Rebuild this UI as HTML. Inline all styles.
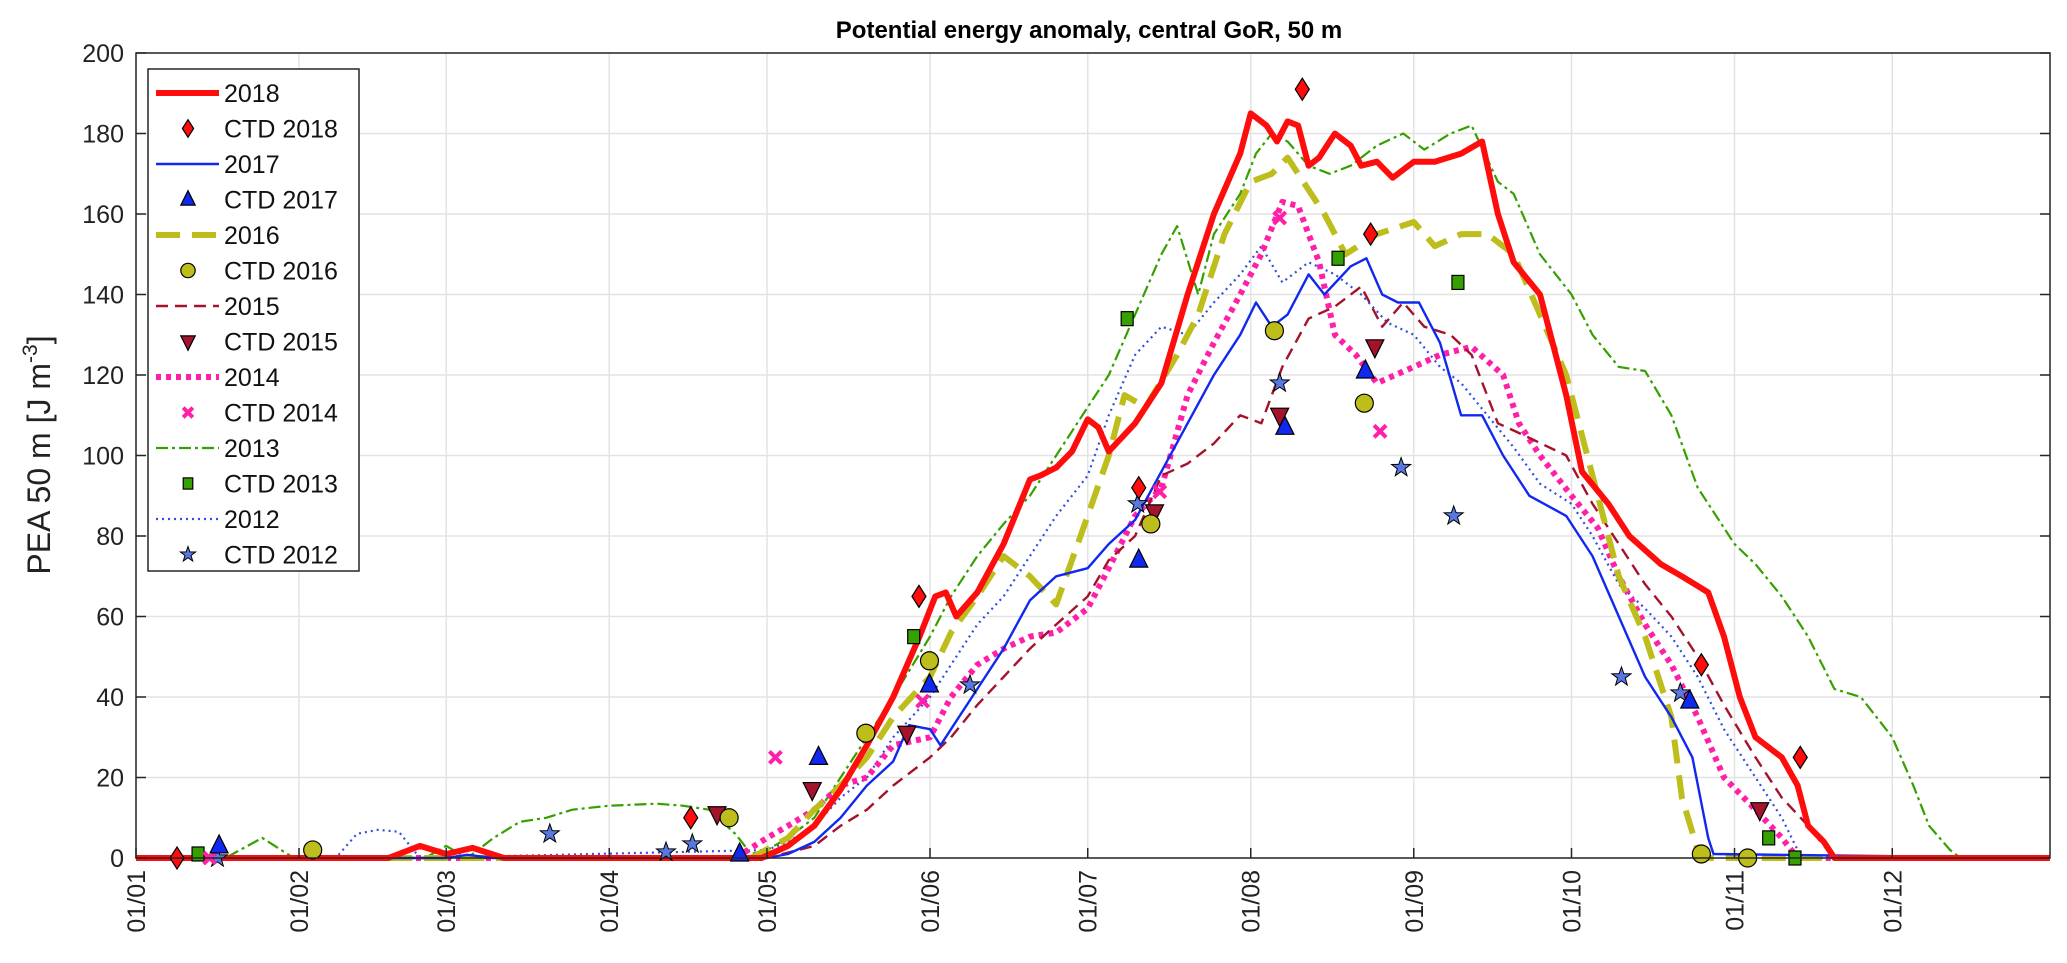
<!DOCTYPE html>
<html><head><meta charset="utf-8"><style>
html,body{margin:0;padding:0;background:#fff}
svg{display:block;font-family:"Liberation Sans",Arial,sans-serif}
</style></head><body>
<svg id="chart" width="2067" height="963" viewBox="0 0 2067 963" xmlns="http://www.w3.org/2000/svg">
<rect width="2067" height="963" fill="#fff"/>
<text x="1089" y="38" text-anchor="middle" font-size="24" font-weight="bold" fill="#000">Potential energy anomaly, central GoR, 50 m</text>
<text transform="translate(50,455) rotate(-90)" text-anchor="middle" font-size="32" fill="#222">PEA 50 m [J m<tspan dy="-13" font-size="21">-3</tspan><tspan dy="13">]</tspan></text>
<g id="grid"></g><g id="lines"></g><g id="markers"></g><g id="axes"></g><g id="legend"></g>
</svg>
<script>
// ---- data ----
const monthLabels=["01/01","01/02","01/03","01/04","01/05","01/06","01/07","01/08","01/09","01/10","01/11","01/12"];
const yTicks=[0,20,40,60,80,100,120,140,160,180,200];
const d2018=["01-01","02-18","02-24","03-01","03-06","03-12","04-30","05-05","05-10","05-15","05-20","05-25","05-30","06-02","06-04","06-06","06-10","06-15","06-20","06-22","06-25","06-28","07-01","07-03","07-05","07-10","07-15","07-20","07-25","07-30","08-01","08-04","08-06","08-08","08-10","08-12","08-14","08-17","08-20","08-22","08-25","08-28","09-01","09-05","09-10","09-14","09-17","09-20","09-25","09-30","10-03","10-08","10-12","10-18","10-22","10-27","10-30","11-02","11-05","11-10","11-13","11-15","11-18","11-20","12-31"];
const v2018=[0,0,3,1,2.5,0,0,3,8,17,28,40,55,65,66,60,66,78,94,95,97,101,109,107,101,108,118,140,160,175,185,182,178,183,182,172,174,180,177,172,173,169,173,173,175,178,160,148,140,115,96,88,80,73,70,66,55,40,30,25,18,8,4,0,0];
const d2017=["01-01","03-01","03-05","03-10","05-01","05-05","05-10","05-15","05-20","05-25","05-28","06-01","06-03","06-05","06-10","06-15","06-20","06-25","07-01","07-05","07-10","07-15","07-20","07-25","07-30","08-02","08-05","08-08","08-12","08-15","08-20","08-23","08-26","08-29","09-02","09-06","09-10","09-14","09-18","09-23","09-30","10-05","10-10","10-15","10-20","10-24","10-27","10-28","12-31"];
const v2017=[0,0,0.8,0,0,1,4,10,18,24,33,32,28,32,42,52,64,70,72,78,84,96,108,120,130,138,132,135,145,140,147,149,140,138,138,128,110,110,100,90,85,75,60,45,35,25,5,1,0];
const d2016=["01-01","04-28","05-05","05-10","05-15","05-20","05-25","06-01","06-05","06-10","06-15","06-20","06-25","07-01","07-05","07-08","07-12","07-18","07-22","07-27","08-01","08-05","08-08","08-11","08-15","08-19","08-25","09-01","09-05","09-10","09-15","09-20","09-25","09-30","10-05","10-10","10-15","10-20","10-22","10-25","10-27","12-31"];
const v2016=[0,0,5,12,18,25,35,45,56,65,75,70,63,85,100,115,112,125,135,155,168,170,174,168,160,150,155,158,152,155,155,150,135,120,95,70,55,35,15,2,0,0];
const d2015=["01-01","05-01","05-10","05-15","05-20","05-25","06-01","06-05","06-10","06-15","06-20","06-25","07-01","07-05","07-10","07-15","07-20","07-25","07-30","08-03","08-07","08-12","08-17","08-22","08-26","08-30","09-03","09-08","09-12","09-17","09-22","09-30","10-05","10-10","10-15","10-20","10-25","10-30","11-05","11-10","11-15","11-18","11-20","12-31"];
const v2015=[0,0,3,8,12,18,25,30,38,45,52,58,65,74,80,95,98,103,110,108,122,134,137,142,132,138,132,130,125,108,105,100,88,78,68,60,50,38,25,15,8,3,0,0];
const d2014=["01-01","04-25","05-01","05-05","05-10","05-15","05-20","05-25","06-01","06-05","06-10","06-15","06-20","06-25","07-01","07-05","07-10","07-15","07-20","07-25","07-30","08-03","08-07","08-10","08-14","08-17","08-21","08-25","09-01","09-06","09-12","09-18","09-21","09-25","10-01","10-06","10-10","10-15","10-20","10-25","10-30","11-05","11-10","11-13","12-31"];
const v2014=[0,0,5,8,12,18,20,28,30,40,48,52,55,56,62,72,85,92,115,128,140,150,163,162,148,130,125,118,122,125,127,120,108,100,90,82,70,58,48,35,20,12,5,0,0];
const d2013=["01-01","01-18","01-25","01-31","02-25","03-01","03-05","03-10","03-15","03-20","03-25","04-01","04-10","04-15","04-20","04-25","04-28","05-01","05-05","05-10","05-15","05-20","05-25","06-01","06-05","06-10","06-15","06-20","06-25","07-01","07-05","07-10","07-15","07-18","07-22","07-25","07-30","08-02","08-05","08-08","08-12","08-16","08-20","08-25","08-30","09-03","09-08","09-12","09-17","09-20","09-25","10-01","10-05","10-10","10-15","10-20","10-25","11-01","11-05","11-10","11-15","11-20","11-25","12-01","12-05","12-08","12-12","12-14","12-31"];
const v2013=[0,0,5,0,0,3,0,5,9,10,12,13,13.5,13,12,6,1,2,5,10,20,30,40,55,65,75,83,90,100,112,120,135,150,157,140,155,165,175,180,178,172,170,172,177,180,176,180,182,168,165,150,140,130,122,121,110,92,78,73,65,55,42,40,30,18,8,2,0,0];
const d2012=["01-01","02-08","02-12","02-16","02-20","02-24","05-01","05-05","05-10","05-15","05-20","05-25","06-01","06-05","06-10","06-15","06-20","06-25","07-01","07-05","07-10","07-15","07-20","07-25","07-30","08-03","08-07","08-12","08-17","08-22","08-27","09-01","09-06","09-10","09-15","09-20","09-25","10-01","10-05","10-10","10-15","10-20","10-25","10-30","11-05","11-10","11-13","11-15","12-31"];
const v2012=[0,0,6,7,6.5,0,2,4,8,15,20,30,40,48,58,65,75,85,95,110,125,132,130,138,145,152,143,148,145,140,133,130,122,118,110,102,93,88,80,68,62,55,45,32,20,10,2,0,0];
// CTD casts: day-of-year and value
const ctd2018Day=[7.8,105.5,148.9,190.7,221.8,234.8,297.7,316.5];
const ctd2018Val=[0,10,65,92,191,155,48,25];
const ctd2017Day=[15.8,114.8,129.8,150.9,190.7,218.5,233.8,295.5];
const ctd2017Val=[3,1,25,43,74,107,121,39];
const ctd2016Day=[33.6,112.8,138.8,150.9,193,216.5,233.6,297.7,306.5];
const ctd2016Val=[2,10,31,49,83,131,113,1,0];
const ctd2015Day=[110.5,128.6,146.6,193.7,217.5,235.6,308.8];
const ctd2015Val=[11,17,31,86,110,127,12];
const ctd2014Day=[14,121.6,149.6,194.7,217.5,236.6];
const ctd2014Val=[0,25,39,91,159,106];
const ctd2013Day=[11.8,147.9,188.5,228.6,251.4,310.5,315.5];
const ctd2013Val=[1,55,134,149,143,5,0];
const ctd2012Day=[15.5,78.7,100.8,105.8,158.6,190.5,217.5,240.6,250.6,282.5,293.7];
const ctd2012Val=[0,6,1.5,3.5,43,88,118,97,85,45,41];

// ---- scales ----
const NS="http://www.w3.org/2000/svg";
const L=136,R=2050,T=53,B=858;
const monthStart=[0,31,59,90,120,151,181,212,243,273,304,334];
function dayOf(s){const p=s.split("-");return monthStart[+p[0]-1]+(+p[1]-1);}
function xs(d){return L+d*(R-L)/364;}
function ys(v){return B-v*(B-T)/200;}
function mk(tag,attrs,parent){const e=document.createElementNS(NS,tag);for(const k in attrs)e.setAttribute(k,attrs[k]);parent.appendChild(e);return e;}
const grid=document.getElementById('grid'),lines=document.getElementById('lines'),markers=document.getElementById('markers'),axes=document.getElementById('axes'),legend=document.getElementById('legend');

monthLabels.forEach((lab,i)=>{
  const x=xs(monthStart[i]);
  const g=mk('line',{x1:x,x2:x,y1:T,y2:B,stroke:'#e3e3e3','stroke-width':1.5},grid);
  
  
  const t=mk('line',{x1:x,x2:x,y1:B,y2:B-10,stroke:'#262626','stroke-width':1.5},axes);
  
  
  const tx=mk('text',{transform:`translate(${x+9},870) rotate(-90)`,'text-anchor':'end','font-size':25,fill:'#222'},axes);
  tx.textContent=lab;
  
  
});
yTicks.forEach(v=>{
  const y=ys(v);
  const g=mk('line',{x1:L,x2:R,y1:y,y2:y,stroke:'#e3e3e3','stroke-width':1.5},grid);
  
  
  const t=mk('line',{x1:L,x2:L+10,y1:y,y2:y,stroke:'#262626','stroke-width':1.5},axes);
  
  
  const t2=mk('line',{x1:R,x2:R-10,y1:y,y2:y,stroke:'#262626','stroke-width':1.5},axes);
  
  
  const tx=mk('text',{x:L-12,y:y+9,'text-anchor':'end','font-size':25,fill:'#222'},axes);
  tx.textContent=v;
  
  
});
const box=mk('rect',{x:L,y:T,width:R-L,height:B-T,fill:'none',stroke:'#262626','stroke-width':1.5},axes);



const series=[
 {n:'2012',d:d2012,v:v2012,c:'#2f4fe0',w:2.2,dash:'2 4'},
 {n:'2013',d:d2013,v:v2013,c:'#35a000',w:2.2,dash:'12 4 3 4'},
 {n:'2014',d:d2014,v:v2014,c:'#ff1fa8',w:6,dash:'5 5'},
 {n:'2015',d:d2015,v:v2015,c:'#a3142c',w:2.4,dash:'12 7'},
 {n:'2016',d:d2016,v:v2016,c:'#bdbd1c',w:6,dash:'24 12'},
 {n:'2017',d:d2017,v:v2017,c:'#1028f0',w:2.4,dash:''},
 {n:'2018',d:d2018,v:v2018,c:'#ff0d0d',w:6,dash:''}
];
series.forEach(s=>{
  const pts=s.d.map((d,i)=>xs(dayOf(d)).toFixed(1)+','+ys(s.v[i]).toFixed(1)).join(' ');
  const p=mk('polyline',{points:pts,fill:'none',stroke:s.c,'stroke-width':s.w,'stroke-linejoin':'round'},lines);
  if(s.dash)p.setAttribute('stroke-dasharray',s.dash);
  
  
});

function shape(type,x,y,s,parent){
  let e;
  if(type==='diamond')e=mk('polygon',{points:`${x},${y-11*s} ${x+7*s},${y} ${x},${y+11*s} ${x-7*s},${y}`,fill:'#ff0d0d',stroke:'#000','stroke-width':1.2},parent);
  else if(type==='tri')e=mk('polygon',{points:`${x},${y-11*s} ${x+9*s},${y+7*s} ${x-9*s},${y+7*s}`,fill:'#1028f0',stroke:'#000','stroke-width':1.2},parent);
  else if(type==='circle')e=mk('circle',{cx:x,cy:y,r:9*s,fill:'#bdbd1c',stroke:'#000','stroke-width':1.2},parent);
  else if(type==='dtri')e=mk('polygon',{points:`${x},${y+11*s} ${x+9*s},${y-7*s} ${x-9*s},${y-7*s}`,fill:'#a3142c',stroke:'#000','stroke-width':1.2},parent);
  else if(type==='x'){e=mk('path',{d:`M${x-6*s},${y-6*s}L${x+6*s},${y+6*s}M${x+6*s},${y-6*s}L${x-6*s},${y+6*s}`,stroke:'#ff1fa8','stroke-width':4,fill:'none'},parent);}
  else if(type==='square')e=mk('rect',{x:x-6*s,y:y-7*s,width:12*s,height:14*s,fill:'#35a000',stroke:'#000','stroke-width':1.2},parent);
  else if(type==='star'){let p=[];for(let i=0;i<10;i++){const r=i%2?4*s:10*s,a=-Math.PI/2+i*Math.PI/5;p.push((x+r*Math.cos(a)).toFixed(1)+','+(y+r*Math.sin(a)).toFixed(1));}e=mk('polygon',{points:p.join(' '),fill:'#5878e0',stroke:'#000','stroke-width':1},parent);}
  return e;
}
const ctds=[
 {n:'2012',t:'star',d:ctd2012Day,v:ctd2012Val},
 {n:'2013',t:'square',d:ctd2013Day,v:ctd2013Val},
 {n:'2014',t:'x',d:ctd2014Day,v:ctd2014Val},
 {n:'2015',t:'dtri',d:ctd2015Day,v:ctd2015Val},
 {n:'2016',t:'circle',d:ctd2016Day,v:ctd2016Val},
 {n:'2017',t:'tri',d:ctd2017Day,v:ctd2017Val},
 {n:'2018',t:'diamond',d:ctd2018Day,v:ctd2018Val}
];
ctds.forEach(c=>{
  c.d.forEach((d,i)=>{
    const e=shape(c.t,xs(d),ys(c.v[i]),1,markers);
    
    
  });
});

const lb=mk('rect',{x:148,y:69,width:211,height:502,fill:'#fff',stroke:'#262626','stroke-width':1.5},legend);


const legItems=[['2018','line',6],['CTD 2018','m','diamond'],['2017','line',5],['CTD 2017','m','tri'],['2016','line',4],['CTD 2016','m','circle'],['2015','line',3],['CTD 2015','m','dtri'],['2014','line',2],['CTD 2014','m','x'],['2013','line',1],['CTD 2013','m','square'],['2012','line',0],['CTD 2012','m','star']];
legItems.forEach((it,i)=>{
  const y=93+i*35.5;
  const g=mk('g',{},legend);
  
  
  if(it[1]==='line'){const s=series[it[2]];const l=mk('line',{x1:156,x2:219,y1:y,y2:y,stroke:s.c,'stroke-width':s.w},g);if(s.dash)l.setAttribute('stroke-dasharray',s.dash);}
  else shape(it[2],188,y,0.8,g);
  const t=mk('text',{x:224,y:y+9,'font-size':25,fill:'#111'},g);
  t.textContent=it[0];
});
</script>
</body></html>
